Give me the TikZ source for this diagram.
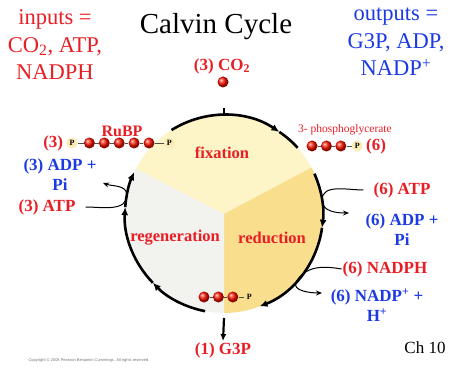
\documentclass[tikz,border=0pt]{standalone}
\usepackage{fontspec}
\setmainfont{Liberation Serif}
\newfontfamily\notefont{Liberation Sans}
\usetikzlibrary{arrows.meta, positioning, calc}
\definecolor{calvinRed}{RGB}{232, 30, 37}
\definecolor{calvinBlue}{RGB}{28, 58, 228}
\definecolor{fixFill}{RGB}{253, 244, 200}
\definecolor{redFill}{RGB}{249, 222, 142}
\definecolor{regFill}{RGB}{242, 242, 239}
\definecolor{phosFill}{RGB}{250, 236, 180}

\begin{document}
\begin{tikzpicture}[
    x=1pt, y=1pt,
    lbl/.style={font=\fontsize{17}{20}\selectfont\bfseries, inner sep=1pt, align=center},
    sect/.style={font=\fontsize{16.5}{19}\selectfont\bfseries, text=calvinRed},
    big/.style={font=\fontsize{22.5}{27.5}\selectfont, align=center},
    bead/.style={circle, inner sep=0pt, minimum size=11pt, ball color=red!85!orange},
    phos/.style={circle, inner sep=0pt, minimum size=11pt, fill=phosFill,
        font=\fontsize{8}{8}\selectfont\bfseries},
    link/.style={line width=0.7pt, black!70},
    ring/.style={line width=2.6pt, -{Latex[length=8pt,width=7pt]}},
    loop/.style={line width=1pt, -{Stealth[length=6pt,width=5pt]}}
]
    \useasboundingbox (0,0) rectangle (455,370);
    \coordinate (cyc) at (224,156);

    % Sectors
    \fill[fixFill] (cyc) -- ++(153:99) arc[start angle=153, end angle=28, radius=99] -- cycle;
    \fill[redFill] (cyc) -- ++(28:99) arc[start angle=28, end angle=-90, radius=99] -- cycle;
    \fill[regFill] (cyc) -- ++(-90:99) arc[start angle=-90, end angle=-207, radius=99] -- cycle;

    \node[sect] (fix) at (222,217) {fixation};
    \node[sect] (regen) at (175,132) {regeneration};
    \node[sect] (reduc) at (272,132) {reduction};

    % Ring
    \foreach \a/\b in {122/56, 24/-8, -8/-69, -101/-136, -136/-184, -184/-205} {
        \draw[ring] ($(cyc)+(\a:99)$) arc[start angle=\a, end angle=\b, radius=99];
    }
    \draw[line width=2.6pt] ($(cyc)+(56:99)$) arc[start angle=56, end angle=42, radius=99];

    % Title, inputs, outputs
    \node[font=\fontsize{29}{32}\selectfont] (title) at (216,343) {Calvin Cycle};
    \node[big, text=calvinRed] (inputs) at (55,325) {inputs =\\CO\textsubscript{2}, ATP,\\NADPH};
    \node[big, text=calvinBlue] (outputs) at (396,328) {outputs =\\G3P, ADP,\\NADP\textsuperscript{+}};

    % CO2 in
    \node[lbl, text=calvinRed] (co2) at (222,304) {(3) CO\textsubscript{2}};
    \node[bead] (co2dot) at (223,288) {};
    \coordinate (co2in) at (224,262);
    \draw[line width=2.6pt] (co2in) -- ($(cyc)+(90:99)$);

    % RuBP
    \node[phos] (rp0) at (72,227) {P};
    \node[bead, right=6pt of rp0] (r1) {};
    \foreach \i [count=\j from 1] in {2,...,5} {
        \node[bead, right=3.5pt of r\j] (r\i) {};
    }
    \node[phos, right=9pt of r5] (rp6) {P};
    \foreach \a/\b in {rp0/r1, r1/r2, r2/r3, r3/r4, r4/r5, r5/rp6} {
        \draw[link] (\a) -- (\b);
    }
    \node[lbl, text=calvinRed, left=2pt of rp0] (rubpn) {(3)};
    \node[lbl, text=calvinRed, font=\fontsize{16}{19}\selectfont\bfseries] (rubp) at (122,239) {RuBP};

    % 3-phosphoglycerate
    \node[bead] (g1) at (312,224) {};
    \node[bead, right=3pt of g1] (g2) {};
    \node[bead, right=3pt of g2] (g3) {};
    \node[phos, right=5pt of g3] (gp) {P};
    \foreach \a/\b in {g1/g2, g2/g3, g3/gp} {
        \draw[link] (\a) -- (\b);
    }
    \node[lbl, text=calvinRed, right=2pt of gp] (pgan) {(6)};
    \node[text=calvinRed, font=\fontsize{11.5}{13}\selectfont] (pga) at (345,240) {3- phosphoglycerate};

    % G3P
    \node[bead] (b1) at (204,73) {};
    \node[bead, right=3pt of b1] (b2) {};
    \node[bead, right=3pt of b2] (b3) {};
    \node[phos, fill=none, right=5pt of b3] (bp) {P};
    \foreach \a/\b in {b1/b2, b2/b3, b3/bp} {
        \draw[link] (\a) -- (\b);
    }
    \coordinate (g3pout) at (224,52);
    \node[lbl, text=calvinRed] (g3p) at (223,20) {(1) G3P};
    \draw[line width=2.2pt, -{Latex[length=7pt,width=6pt]}] (g3pout) -- (g3p.north);

    % Regeneration: ATP
    \node[lbl, text=calvinBlue] (adpL) at (60,195) {(3) ADP +\\Pi};
    \node[lbl, text=calvinRed] (atpL) at (47,163) {(3) ATP};
    \coordinate (touchL) at ($(cyc)+(169:99)$);
    \coordinate (tipL) at (103,187);
    \draw[loop] ([xshift=9pt]atpL.east) to[out=0, in=-90] (touchL) to[out=90, in=-20] (tipL);

    % Reduction: ATP and NADPH
    \node[lbl, text=calvinRed] (atpR) at (402,180) {(6) ATP};
    \node[lbl, text=calvinBlue] (adpR) at (402,140) {(6) ADP +\\Pi};
    \coordinate (touchR) at ($(cyc)+(8:99)$);
    \coordinate (tipR) at (349,157);
    \draw[loop] ([xshift=-9pt]atpR.west) to[out=180, in=90] (touchR) to[out=-90, in=180] (tipR);

    \node[lbl, text=calvinRed] (nadph) at (385,101) {(6) NADPH};
    \node[lbl, text=calvinBlue] (nadp) at (377,65) {(6) NADP\textsuperscript{+} +\\H\textsuperscript{+}};
    \coordinate (touchN) at ($(cyc)+(-43:99)$);
    \coordinate (tipN) at (322,77);
    \draw[loop] (nadph.west) to[out=170, in=60] (touchN) to[out=-120, in=180] (tipN);

    % Footer
    \node[font=\fontsize{17}{20}\selectfont] (chap) at (425,22) {Ch 10};
    \node[font=\notefont\fontsize{4}{5}\selectfont, text=black!55] (copy) at (89,10)
        {Copyright \textcopyright{} 2008 Pearson Benjamin Cummings. All rights reserved.};
\end{tikzpicture}
\end{document}
